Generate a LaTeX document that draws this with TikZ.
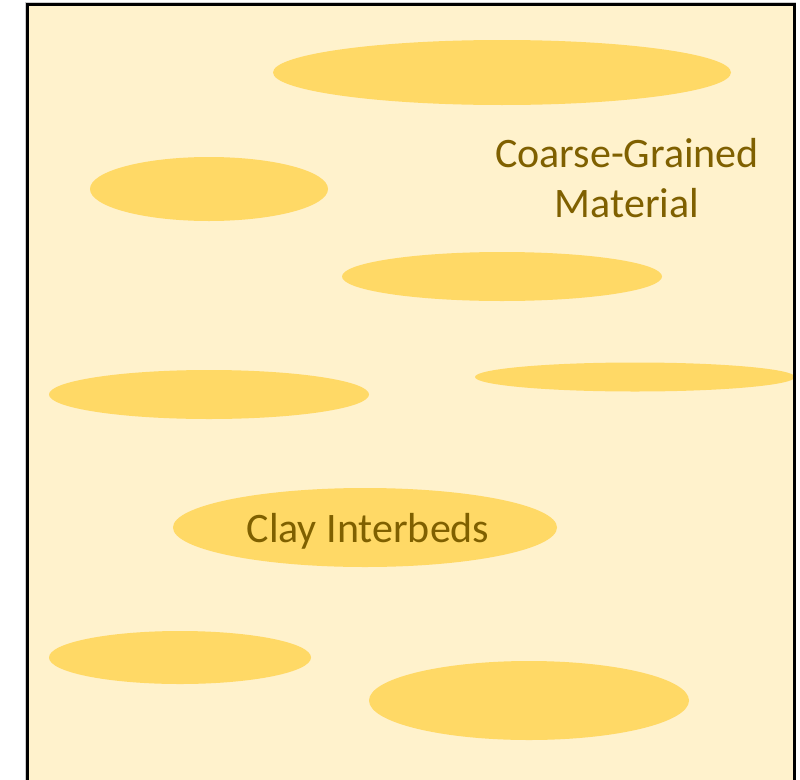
\documentclass[tikz,border=0pt]{standalone}
\usepackage{fontspec}
\setmainfont{Carlito}
\usetikzlibrary{shapes.geometric}
\definecolor{sandbg}{HTML}{FFF2CC}
\definecolor{claylens}{HTML}{FFD966}
\definecolor{labeltext}{HTML}{7F6000}
\tikzset{
  lens/.style={shape=ellipse, fill=claylens, draw=none, inner sep=0pt},
  tag/.style={text=labeltext, font=\fontsize{42}{50}\selectfont, align=center, inner sep=0pt}
}
\begin{document}
\begin{tikzpicture}[x=1pt, y=-1pt]
\useasboundingbox (0,0) rectangle (800,779);
\clip (0,0) rectangle (800,779);
% aquifer body
\fill[sandbg] (27.5,4) rectangle (794,800);
% clay lenses
\node[lens, minimum width=458pt, minimum height=65pt] (l1) at (502,72.5) {};
\node[lens, minimum width=238pt, minimum height=64pt] (l2) at (209,189) {};
\node[lens, minimum width=320pt, minimum height=49pt] (l3) at (502,276.5) {};
\node[lens, minimum width=320pt, minimum height=29pt] (l4) at (635,377) {};
\node[lens, minimum width=320pt, minimum height=49pt] (l5) at (209,394.5) {};
\node[lens, minimum width=384pt, minimum height=79pt] (l6) at (365,527.5) {};
\node[lens, minimum width=262pt, minimum height=53pt] (l7) at (180,657.5) {};
\node[lens, minimum width=320pt, minimum height=79pt] (l8) at (529,700.5) {};
% labels (base anchor sits on the last line)
\node[tag, anchor=base] (coarse) at (627,217) {Coarse-Grained\\Material};
\node[tag, anchor=base] (clay) at (368,542) {Clay Interbeds};
% outline
\draw[gray!40, line width=1pt] (25,2) -- (796,2);
\draw[gray!40, line width=1pt] (25,2) -- (25,800);
\draw[black, line width=3pt] (27.5,800) -- (27.5,4) -- (794,4) -- (794,800);
\end{tikzpicture}
\end{document}
